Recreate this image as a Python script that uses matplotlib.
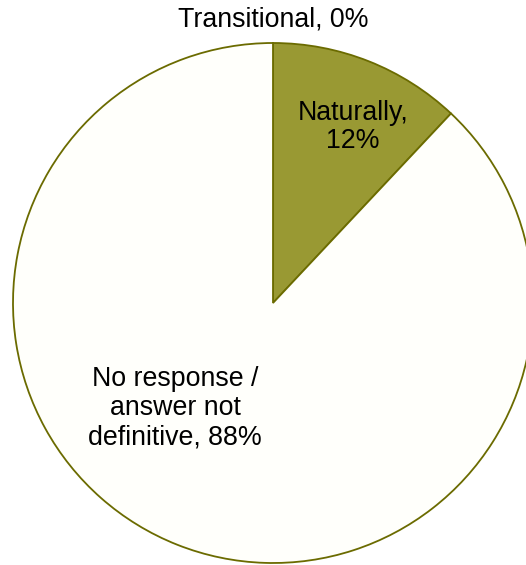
import matplotlib.pyplot as plt

labels = ['Transitional', 'Naturally,\n', 'No response /\nanswer not\ndefinitive']
values = [0, 12, 88]
colors = ['#999933', '#999933', '#fffffb']

W, H = 526, 565
plt.rcParams['font.family'] = ['Liberation Sans', 'DejaVu Sans']

fig = plt.figure(figsize=(W / 100, H / 100), dpi=100)
ax = fig.add_axes([0, 0, 1, 1])

# pie in pixel coords, center (273, 303) from top
ax.pie(values, colors=colors, startangle=90, counterclock=False,
       radius=260, center=(273, H - 303),
       wedgeprops=dict(edgecolor='#6b6b00', linewidth=1.3))

ax.set_xlim(0, W)
ax.set_ylim(0, H)
ax.set_aspect('equal')
ax.axis('off')

# label positions (pixels from top)
label_pos = [(273, 20), (353, 127), (175, 408)]
for lab, val, (x, y) in zip(labels, values, label_pos):
    sep = '' if lab.endswith('\n') else ', '
    ax.text(x, H - y, f'{lab}{sep}{val}%', ha='center', va='center',
            fontsize=19.3, color='black', linespacing=1.15)

fig.savefig('out.png', dpi=100)
